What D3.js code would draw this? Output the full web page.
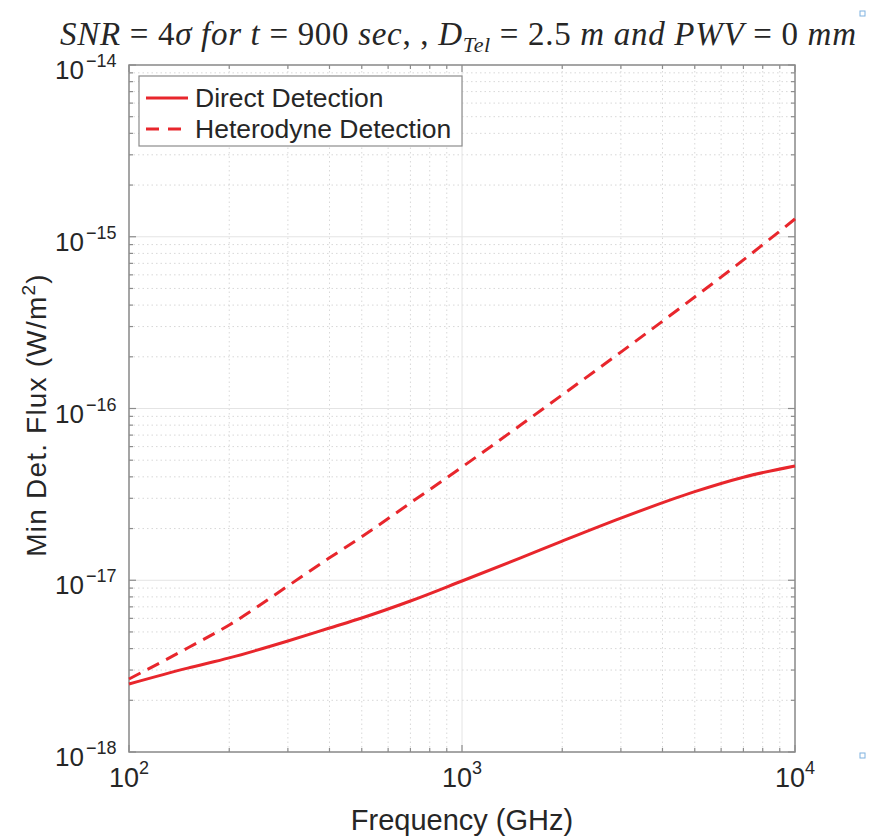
<!DOCTYPE html>
<html>
<head>
<meta charset="utf-8">
<script src="https://cdn.jsdelivr.net/npm/d3@7"></script>
<style>
  body { margin: 0; background: #fff; }
  .tick-label { font-family: "Liberation Sans", Arial, sans-serif; fill: #262626; }
  .title { font-family: "Liberation Serif", "DejaVu Serif", serif; fill: #262626; }
</style>
</head>
<body>
<svg width="869" height="839"></svg>
<script>
// frequency samples (GHz)
var freqs = [100, 150, 200, 300, 400, 500, 700, 1000, 1500, 2000, 3000, 5000, 7000, 10000];
// minimum detectable flux (W/m^2)
var direct = [2.49e-18, 3.08e-18, 3.53e-18, 4.43e-18, 5.27e-18, 6.03e-18, 7.57e-18,
              9.9e-18, 1.35e-17, 1.69e-17, 2.30e-17, 3.28e-17, 3.98e-17, 4.63e-17];
var heterodyne = [2.66e-18, 4.03e-18, 5.49e-18, 9.26e-18, 1.35e-17, 1.79e-17, 2.82e-17,
                  4.56e-17, 8.01e-17, 1.20e-16, 2.13e-16, 4.46e-16, 7.33e-16, 1.27e-15];
var xTicks = [2, 3, 4];         // exponents of 10
var yTicks = [-18, -17, -16, -15, -14];
var seriesNames = ["Direct Detection", "Heterodyne Detection"];

var margin = {left: 129, right: 74, top: 65, bottom: 87};
var W = 869, H = 839;
var red = "#e8262c";

var svg = d3.select("svg");

var x = d3.scaleLog().domain([1e2, 1e4]).range([margin.left, W - margin.right]);
var y = d3.scaleLog().domain([1e-18, 1e-14]).range([H - margin.bottom, margin.top]);

var g = {
  grid: svg.append("g").attr("id", "grid"),
  axes: svg.append("g").attr("id", "axes"),
  lines: svg.append("g").attr("id", "lines"),
  legend: svg.append("g").attr("id", "legend"),
  text: svg.append("g").attr("id", "text")
};

// minor / major values for grid
var xMinor = [], yMinor = [];
for (var e = 2; e < 4; e++) for (var k = 2; k <= 9; k++) xMinor.push(k * Math.pow(10, e));
for (var e2 = -18; e2 < -14; e2++) for (var k2 = 2; k2 <= 9; k2++) yMinor.push(k2 * Math.pow(10, e2));
var xMajor = xTicks.map(function(d) { return Math.pow(10, d); });
var yMajor = yTicks.map(function(d) { return Math.pow(10, d); });

var x0 = x.range()[0], x1 = x.range()[1], y0 = y.range()[0], y1 = y.range()[1];

// minor grid (dotted)
g.grid.selectAll("line.xminor").data(xMinor).enter().append("line")
  .attr("x1", function(d) { return x(d); }).attr("x2", function(d) { return x(d); })
  .attr("y1", y0).attr("y2", y1)
  .attr("stroke", "#d8d8d8").attr("stroke-width", 1).attr("stroke-dasharray", "1.5,3");
g.grid.selectAll("line.yminor").data(yMinor).enter().append("line")
  .attr("y1", function(d) { return y(d); }).attr("y2", function(d) { return y(d); })
  .attr("x1", x0).attr("x2", x1)
  .attr("stroke", "#d8d8d8").attr("stroke-width", 1).attr("stroke-dasharray", "1.5,3");
// major grid
g.grid.selectAll("line.xmajor").data(xMajor).enter().append("line")
  .attr("x1", function(d) { return x(d); }).attr("x2", function(d) { return x(d); })
  .attr("y1", y0).attr("y2", y1)
  .attr("stroke", "#e4e4e4").attr("stroke-width", 1);
g.grid.selectAll("line.ymajor").data(yMajor).enter().append("line")
  .attr("y1", function(d) { return y(d); }).attr("y2", function(d) { return y(d); })
  .attr("x1", x0).attr("x2", x1)
  .attr("stroke", "#e4e4e4").attr("stroke-width", 1);

// box
g.axes.append("rect")
  .attr("x", x0).attr("y", y1).attr("width", x1 - x0).attr("height", y0 - y1)
  .attr("fill", "none").attr("stroke", "#8c8c8c").attr("stroke-width", 1.5);

// inward ticks on all four sides
function ticksX(vals, len) {
  vals.forEach(function(d) {
    g.axes.append("line").attr("x1", x(d)).attr("x2", x(d)).attr("y1", y0).attr("y2", y0 - len)
      .attr("stroke", "#8c8c8c").attr("stroke-width", 1.2);
    g.axes.append("line").attr("x1", x(d)).attr("x2", x(d)).attr("y1", y1).attr("y2", y1 + len)
      .attr("stroke", "#8c8c8c").attr("stroke-width", 1.2);
  });
}
function ticksY(vals, len) {
  vals.forEach(function(d) {
    g.axes.append("line").attr("y1", y(d)).attr("y2", y(d)).attr("x1", x0).attr("x2", x0 + len)
      .attr("stroke", "#8c8c8c").attr("stroke-width", 1.2);
    g.axes.append("line").attr("y1", y(d)).attr("y2", y(d)).attr("x1", x1).attr("x2", x1 - len)
      .attr("stroke", "#8c8c8c").attr("stroke-width", 1.2);
  });
}
ticksX(xMinor, 4); ticksX(xMajor, 7);
ticksY(yMinor, 4); ticksY(yMajor, 7);

// tick labels
g.text.selectAll("text.xt").data(xTicks).enter().append("text")
  .attr("class", "tick-label")
  .attr("x", function(d) { return x(Math.pow(10, d)) - 20; })
  .attr("y", y0 + 35)
  .attr("text-anchor", "start")
  .style("font-size", "27px")
  .each(function(d) {
    var t = d3.select(this);
    t.append("tspan").text("10");
    t.append("tspan").attr("dy", -13).style("font-size", "18px").text(d);
  });

g.text.selectAll("text.yt").data(yTicks).enter().append("text")
  .attr("class", "tick-label")
  .attr("x", x0 - 45)
  .attr("y", function(d) { return y(Math.pow(10, d)) + 14; })
  .attr("text-anchor", "end")
  .style("font-size", "26px")
  .each(function(d) {
    var t = d3.select(this);
    t.append("tspan").text("10");
    t.append("tspan").attr("x", x0 - 43).attr("dy", -12).attr("text-anchor", "start")
      .style("font-size", "18px").text(String(d).replace("-", "\u2212"));
  });

// axis labels
g.text.append("text").attr("class", "tick-label")
  .attr("x", (x0 + x1) / 2).attr("y", 830)
  .attr("text-anchor", "middle").style("font-size", "29px")
  .text("Frequency (GHz)");

var yl = g.text.append("text").attr("class", "tick-label")
  .attr("transform", "translate(46,415) rotate(-90)")
  .attr("text-anchor", "middle").style("font-size", "28px")
  .style("letter-spacing", "1.2px");
yl.append("tspan").text("Min Det. Flux  (W/m");
yl.append("tspan").attr("dy", -11).style("font-size", "19px").text("2");
yl.append("tspan").attr("dy", 11).text(")");

// title (math-style)
var title = g.text.append("text").attr("class", "title")
  .attr("x", 60).attr("y", 45).style("font-size", "33px")
  .attr("textLength", 796).attr("lengthAdjust", "spacing");
var parts = [
  ["SNR", true], [" = 4", false], ["σ for t", true], [" = 900 ", false], ["sec", true], [",  , ", false],
  ["D", true]
];
parts.forEach(function(p) {
  title.append("tspan").style("font-style", p[1] ? "italic" : "normal").text(p[0]);
});
title.append("tspan").style("font-style", "italic").style("font-size", "22px").attr("dy", 7).text("Tel");
title.append("tspan").attr("dy", -7).text(" = 2.5 ");
title.append("tspan").style("font-style", "italic").text("m and PWV");
title.append("tspan").text(" = 0 ");
title.append("tspan").style("font-style", "italic").text("mm");

// data lines
var data = [
  freqs.map(function(f, i) { return [f, direct[i]]; }),
  freqs.map(function(f, i) { return [f, heterodyne[i]]; })
];
var line = d3.line()
  .x(function(d) { return x(d[0]); })
  .y(function(d) { return y(d[1]); })
  .curve(d3.curveMonotoneX);

g.lines.selectAll("path").data(data).enter().append("path")
  .attr("d", line)
  .attr("fill", "none")
  .attr("stroke", red)
  .attr("stroke-width", 3)
  .attr("stroke-dasharray", function(d, i) { return i === 1 ? "13,8" : null; });

// legend
g.legend.append("rect")
  .attr("x", 139).attr("y", 76).attr("width", 323).attr("height", 70)
  .attr("fill", "#fff").attr("stroke", "#8c8c8c").attr("stroke-width", 1.2);
var leg = g.legend.selectAll("g.item").data(seriesNames).enter().append("g")
  .attr("class", "item")
  .attr("transform", function(d, i) { return "translate(0," + (98 + i * 31) + ")"; });
leg.append("line")
  .attr("x1", 146).attr("x2", function(d, i) { return i === 1 ? 181 : 188; })
  .attr("y1", 0).attr("y2", 0)
  .attr("stroke", red).attr("stroke-width", 3)
  .attr("stroke-dasharray", function(d, i) { return i === 1 ? "13,9" : null; });
leg.append("text").attr("class", "tick-label")
  .attr("x", 195).attr("y", 9).style("font-size", "26.5px")
  .text(function(d) { return d; });

// small resize handles at right edge
[[860, 11], [860, 753]].forEach(function(p) {
  svg.append("rect").attr("x", p[0]).attr("y", p[1]).attr("width", 5).attr("height", 5)
    .attr("fill", "#fff").attr("stroke", "#7fb2e0").attr("stroke-width", 1);
});
</script>
</body>
</html>
